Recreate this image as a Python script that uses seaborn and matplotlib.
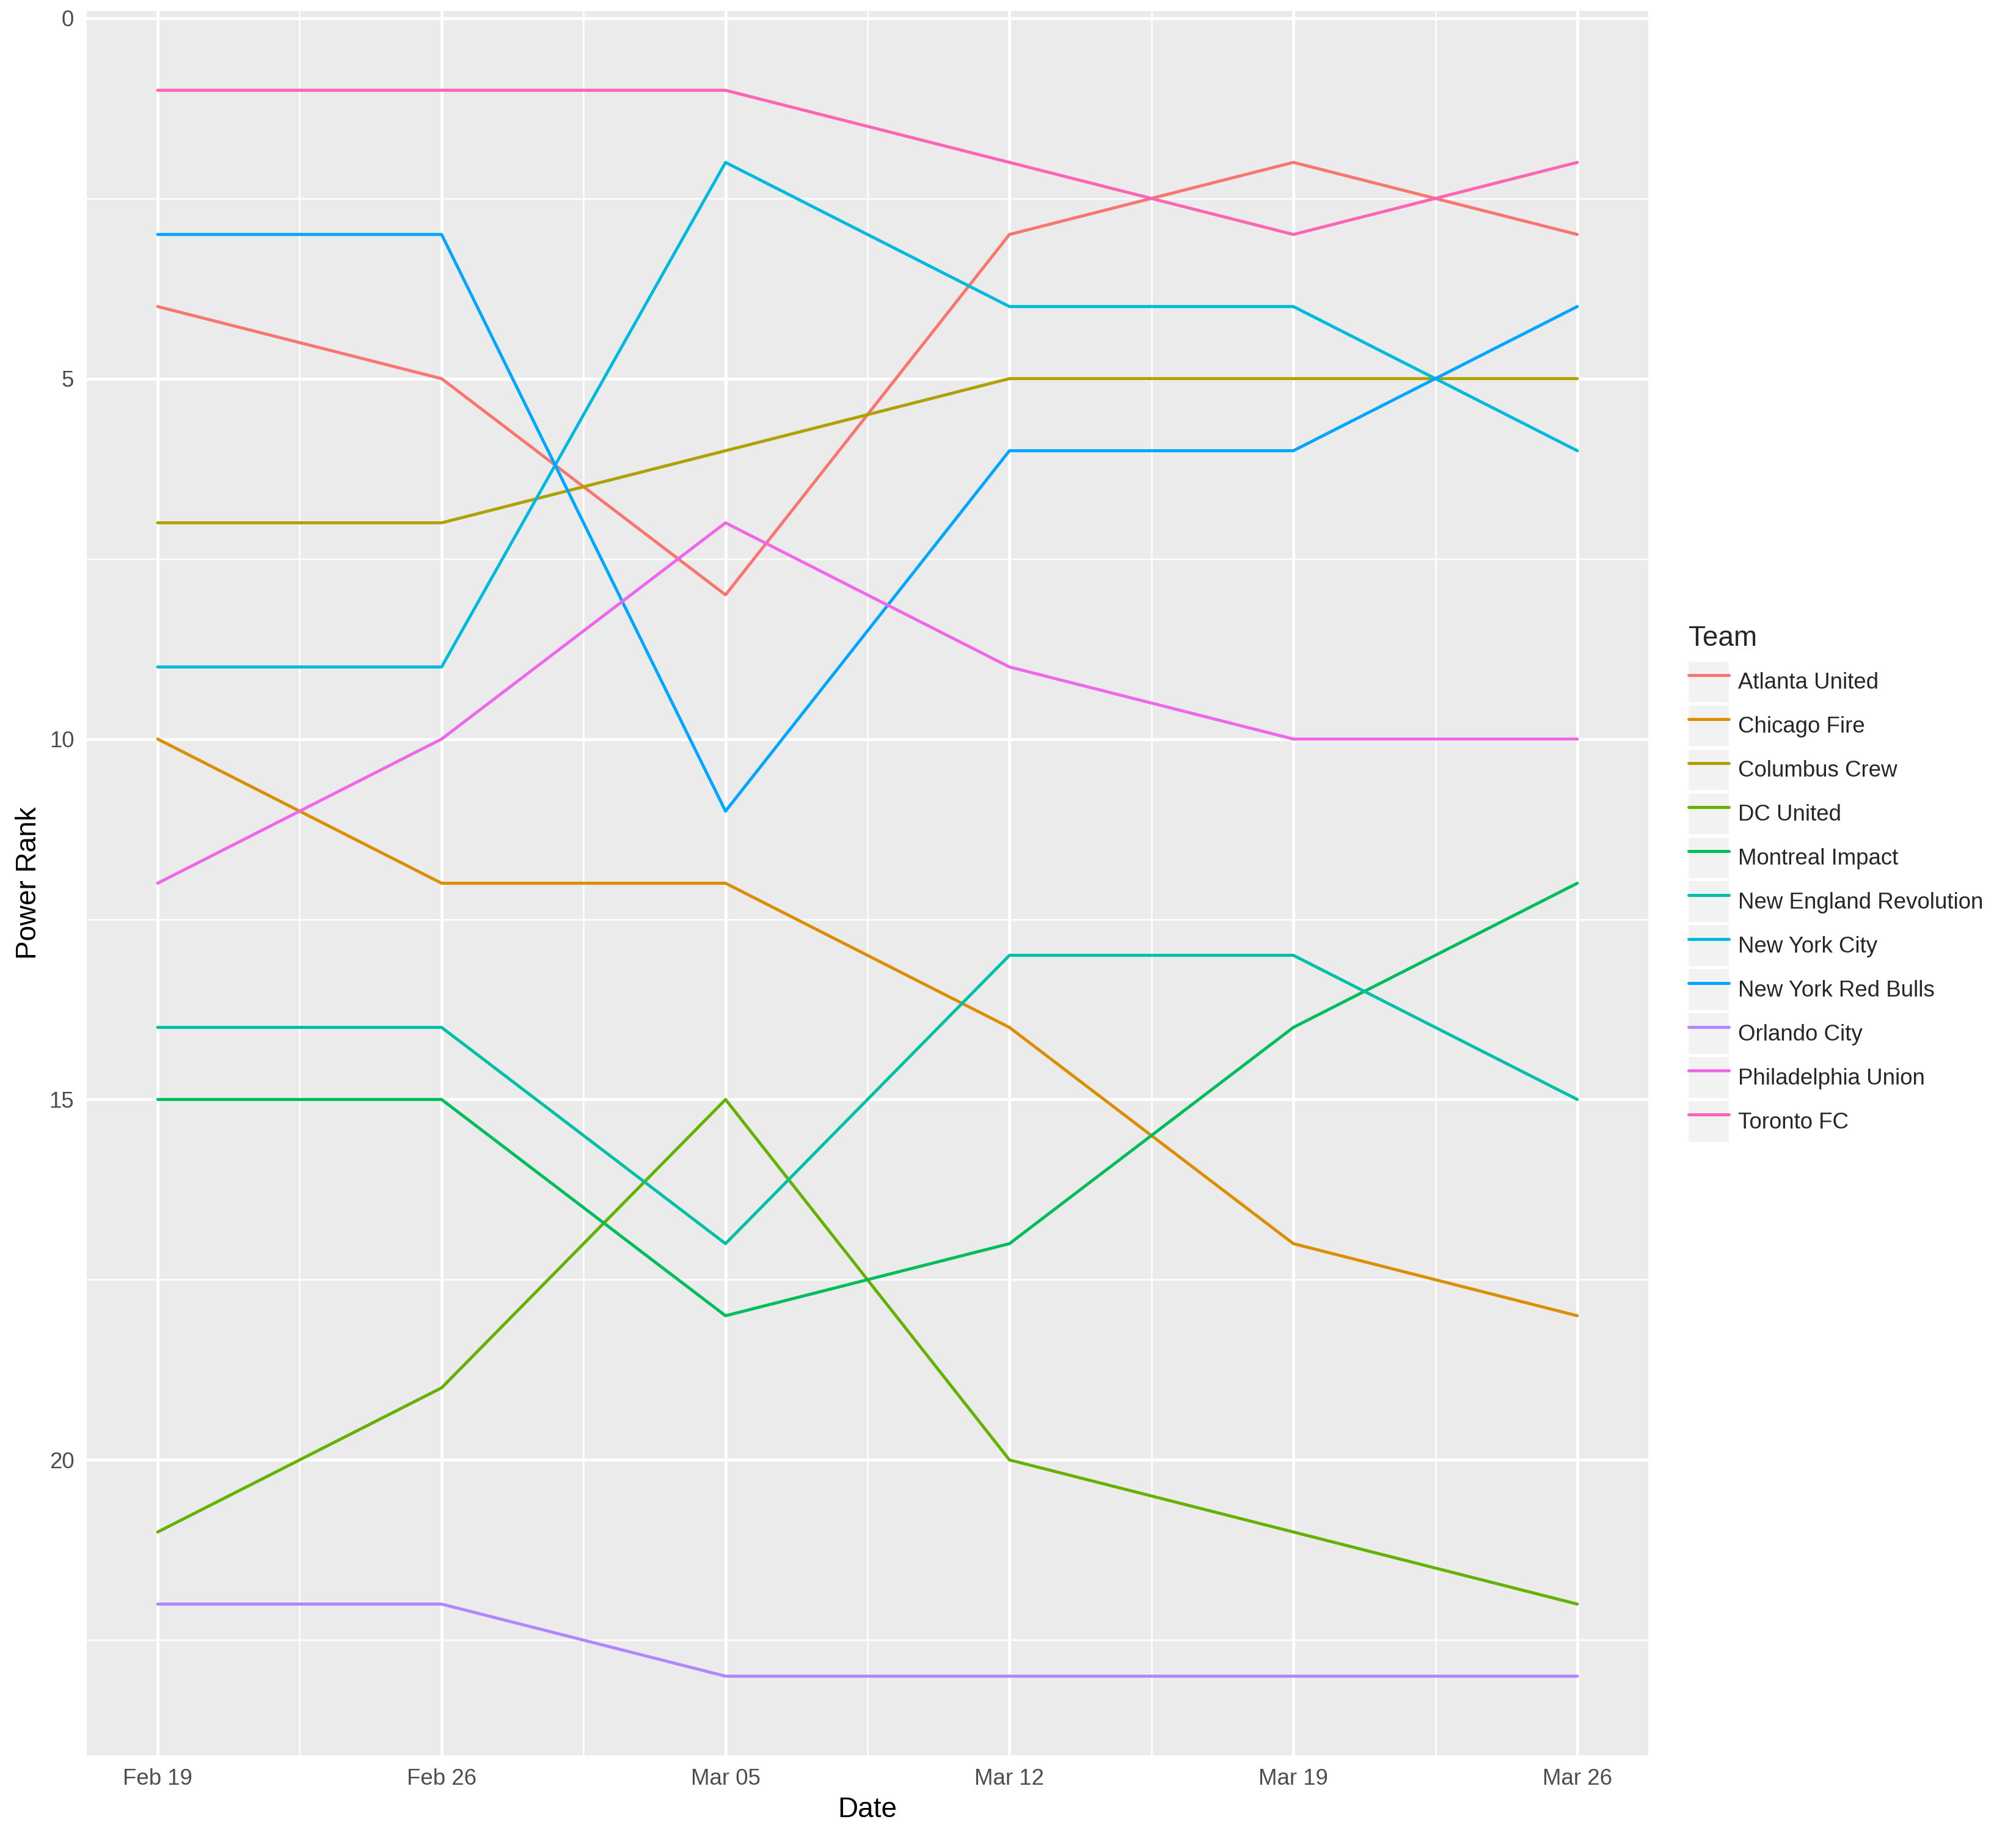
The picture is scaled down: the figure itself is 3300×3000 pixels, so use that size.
import numpy as np
import pandas as pd
import seaborn as sns
import matplotlib
matplotlib.use("Agg")
from matplotlib import pyplot as plt
import matplotlib.dates as mdates
from matplotlib.lines import Line2D
from matplotlib.patches import Rectangle
from matplotlib.legend_handler import HandlerLine2D

# weekly power rankings
dates = ["2017-02-19", "2017-02-26", "2017-03-05", "2017-03-12", "2017-03-19", "2017-03-26"]

teams = ["Atlanta United", "Chicago Fire", "Columbus Crew", "DC United",
         "Montreal Impact", "New England Revolution", "New York City",
         "New York Red Bulls", "Orlando City", "Philadelphia Union", "Toronto FC"]

atlanta_united = [4, 5, 8, 3, 2, 3]
chicago_fire = [10, 12, 12, 14, 17, 18]
columbus_crew = [7, 7, 6, 5, 5, 5]
dc_united = [21, 19, 15, 20, 21, 22]
montreal_impact = [15, 15, 18, 17, 14, 12]
new_england = [14, 14, 17, 13, 13, 15]
new_york_city = [9, 9, 2, 4, 4, 6]
red_bulls = [3, 3, 11, 6, 6, 4]
orlando_city = [22, 22, 23, 23, 23, 23]
philadelphia = [12, 10, 7, 9, 10, 10]
toronto_fc = [1, 1, 1, 2, 3, 2]

ranks = [atlanta_united, chicago_fire, columbus_crew, dc_united, montreal_impact,
         new_england, new_york_city, red_bulls, orlando_city, philadelphia, toronto_fc]

# ggplot default hue colours
colors = ["#F8766D", "#DB8E00", "#AEA200", "#64B200", "#00BD5C", "#00C1A7",
          "#00BADE", "#00A6FF", "#B385FF", "#EF67EB", "#FF63B6"]

rows = []
for team, r in zip(teams, ranks):
    for d, v in zip(dates, r):
        rows.append({"Date": pd.Timestamp(d), "Power Rank": v, "Team": team})
df = pd.DataFrame(rows)

sns.set_style("darkgrid")
plt.rcParams["font.family"] = ["Liberation Sans", "DejaVu Sans"]

fig = plt.figure(figsize=(11, 10), dpi=300)
ax = fig.add_axes([0.043, 0.0423, 0.7746, 0.9517])
ax.set_facecolor("#EBEBEB")

sns.lineplot(data=df, x="Date", y="Power Rank", hue="Team", hue_order=teams,
             palette=dict(zip(teams, colors)), linewidth=1.2, ax=ax)

handles, labels = ax.get_legend_handles_labels()
ax.get_legend().remove()

# axes like ggplot
d = pd.to_datetime(dates)
ax.set_xlim(d[0] - pd.Timedelta(hours=42), d[-1] + pd.Timedelta(hours=42))
ax.set_ylim(24.1, -0.1)
ax.set_xticks(d)
ax.xaxis.set_major_formatter(mdates.DateFormatter("%b %d"))
mids = d[:-1] + (d[1:] - d[:-1]) / 2
ax.set_xticks(mids, minor=True)
ax.set_yticks([0, 5, 10, 15, 20])
ax.set_yticks([2.5, 7.5, 12.5, 17.5, 22.5], minor=True)

ax.grid(which="major", color="white", linewidth=1.2)
ax.grid(which="minor", color="white", linewidth=0.6)
ax.set_axisbelow(True)
for s in ax.spines.values():
    s.set_visible(False)

ax.tick_params(which="major", length=2.75, width=1.2, color="#333333",
               labelcolor="#4D4D4D", labelsize=8.8, pad=2.2)
ax.tick_params(which="minor", length=0)
ax.set_xlabel("Date", fontsize=11, color="black", labelpad=2.75)
ax.set_ylabel("Power Rank", fontsize=11, color="black", labelpad=2.75)


class KeyBox(HandlerLine2D):
    def create_artists(self, legend, orig_handle, xdescent, ydescent,
                       width, height, fontsize, trans):
        bg = Rectangle((-xdescent, -ydescent), width, height,
                       facecolor="#F2F2F2", edgecolor="none", transform=trans)
        arts = super().create_artists(legend, orig_handle, xdescent, ydescent,
                                      width, height, fontsize, trans)
        for a in arts:
            a.set_linewidth(1.2)
        return [bg] + list(arts)


leg = fig.legend(handles, labels, title="Team", loc="center left",
                 bbox_to_anchor=(0.8375, 0.518), frameon=False,
                 handlelength=1.81, handleheight=2.41, labelspacing=0.15,
                 handletextpad=0.4, borderpad=0, borderaxespad=0, fontsize=8.8,
                 title_fontsize=11, alignment="left",
                 handler_map={Line2D: KeyBox()})
leg._legend_box.sep = 3.7

fig.savefig("out.png", dpi=300)
